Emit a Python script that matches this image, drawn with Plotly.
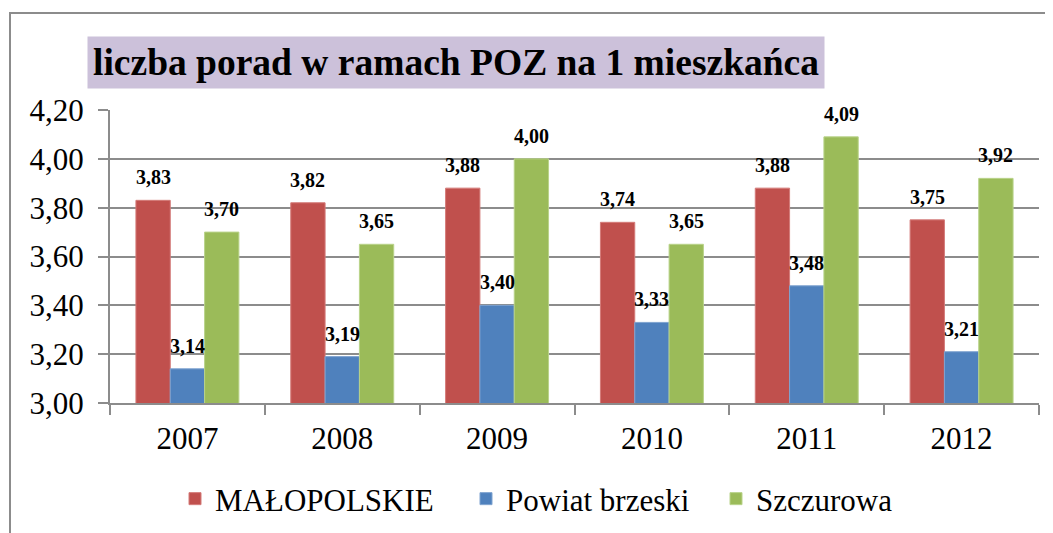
import plotly.graph_objects as go

years = ["2007", "2008", "2009", "2010", "2011", "2012"]
malopolskie = [3.83, 3.82, 3.88, 3.74, 3.88, 3.75]
powiat_brzeski = [3.14, 3.19, 3.40, 3.33, 3.48, 3.21]
szczurowa = [3.70, 3.65, 4.00, 3.65, 4.09, 3.92]
y_ticks = [3.00, 3.20, 3.40, 3.60, 3.80, 4.00, 4.20]
title_text = "liczba porad w ramach POZ na 1 mieszkańca"

series = [
    ("MAŁOPOLSKIE", malopolskie, "#C0504D", "#D47B79"),
    ("Powiat brzeski", powiat_brzeski, "#4F81BD", "#7FA3D0"),
    ("Szczurowa", szczurowa, "#9BBB59", "#B9D38A"),
]
legend_square_x = [194, 485, 735]  # screen px of each legend square

SERIF = "Liberation Serif"
OFF = 8  # page body margin offset

W, H = 1053, 533
# reference plot area: x 110..1039, y 110..403 (screen px)
L = 110 - OFF
T = 110 - OFF
R = W - (1039 - OFF)
B = H - (403 - OFF)
pw = W - L - R
ph = H - T - B

BARGAP = 0.335
cat_px = pw / len(years)
bar_px = cat_px * (1 - BARGAP) / 3

fig = go.Figure()
annotations = []
legends = {}
for k, (name, vals, col, edge) in enumerate(series):
    lg = "legend" if k == 0 else f"legend{k + 1}"
    fig.add_trace(go.Bar(
        x=years, y=vals, name=name, legend=lg,
        marker=dict(color=col, line=dict(color=edge, width=1)),
    ))
    legends[lg] = dict(
        orientation="h",
        x=(legend_square_x[k] - 19 - OFF - L) / pw, xanchor="left",
        y=-(499 - 403) / ph, yanchor="middle",
        font=dict(family=SERIF, size=31, color="black"),
        bgcolor="rgba(0,0,0,0)",
    )
    for i, v in enumerate(vals):
        annotations.append(dict(
            x=i, y=v, xref="x", yref="y",
            text="<b>" + f"{v:.2f}".replace(".", ",") + "</b>",
            showarrow=False,
            xshift=(k - 1) * bar_px, yshift=23,
            xanchor="center", yanchor="middle",
            font=dict(family=SERIF, size=20, color="black"),
        ))

annotations.append(dict(
    text="<b>" + title_text + "</b>",
    xref="paper", yref="paper",
    x=(87 - OFF - L) / pw, y=1 + (T - (36 - OFF)) / ph,
    xanchor="left", yanchor="top",
    showarrow=False,
    bgcolor="#CCC1DA",
    borderpad=5,
    font=dict(family=SERIF, size=37.5, color="black"),
))

fig.update_layout(
    width=W, height=H,
    margin=dict(l=L, r=R, t=T, b=B),
    paper_bgcolor="white", plot_bgcolor="white",
    separators=", ",
    barmode="group", bargap=BARGAP, bargroupgap=0,
    font=dict(family=SERIF, color="black"),
    showlegend=True,
    xaxis=dict(
        type="category", range=[-0.5, len(years) - 0.5],
        showline=True, linecolor="#8C8C8C", linewidth=2,
        ticks="outside", tickcolor="#8C8C8C", ticklen=10, tickwidth=2,
        tickson="boundaries", ticklabelstandoff=7,
        tickfont=dict(family=SERIF, size=31, color="black"),
        showgrid=False, automargin=False,
    ),
    yaxis=dict(
        range=[3.0, 4.2],
        tickvals=y_ticks, tickformat=".2f",
        showline=True, linecolor="#8C8C8C", linewidth=2,
        ticks="outside", tickcolor="#8C8C8C", ticklen=10, tickwidth=2,
        ticklabelstandoff=8,
        showgrid=True, gridcolor="#8C8C8C", gridwidth=2,
        tickfont=dict(family=SERIF, size=31, color="black"),
        zeroline=False, automargin=False,
    ),
    annotations=annotations,
    shapes=[dict(
        type="path", xref="paper", yref="paper",
        path="M {x0},{y0} L {x1},{y1} L {x2},{y2}".format(
            x0=(10 - OFF - L) / pw, y0=-(H + 20 - T - ph) / ph,
            x1=(10 - OFF - L) / pw, y1=1 + (T - (13 - OFF)) / ph,
            x2=(W + 20 - L) / pw, y2=1 + (T - (13 - OFF)) / ph,
        ),
        line=dict(color="#8C8C8C", width=2),
    )],
    **legends,
)

fig.write_html("out.html")
